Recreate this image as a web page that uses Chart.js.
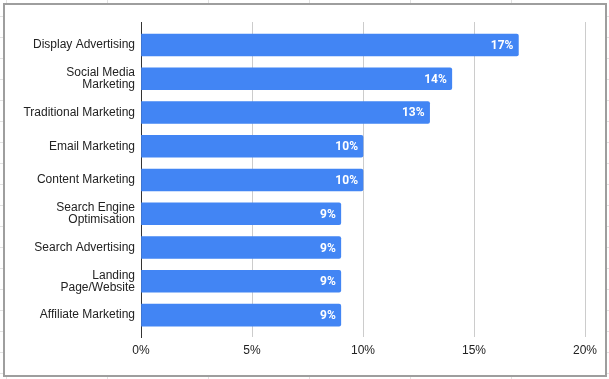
<!DOCTYPE html>
<html>
<head>
<meta charset="utf-8">
<script src="https://cdn.jsdelivr.net/npm/chart.js@4/dist/chart.umd.min.js"></script>
<style>
  html, body { margin: 0; padding: 0; }
  body {
    width: 609px; height: 379px; position: relative; overflow: hidden;
    background-color: #fff;
    background-image:
      linear-gradient(to right, #e2e2e2 1px, transparent 1px),
      linear-gradient(to bottom, #e2e2e2 1px, transparent 1px);
    background-size: 101px 21px;
    background-position: 6px 16px;
  }
  #frame {
    position: absolute; left: 3px; top: 3px; width: 600px; height: 370px;
    background: #fff; border: 2px solid #9e9e9e;
  }
  #wrap { position: absolute; left: 0; top: 0; width: 609px; height: 379px; }
</style>
</head>
<body>
<div id="frame"></div>
<div id="wrap"><canvas id="c" width="609" height="379"></canvas></div>
<script>
const categories = [
  "Display Advertising",
  ["Social Media", "Marketing"],
  "Traditional Marketing",
  "Email Marketing",
  "Content Marketing",
  ["Search Engine", "Optimisation"],
  "Search Advertising",
  ["Landing", "Page/Website"],
  "Affiliate Marketing"
];
const values = [17, 14, 13, 10, 10, 9, 9, 9, 9];
const xTicks = [0, 5, 10, 15, 20];

const valueLabels = {
  id: 'valueLabels',
  afterDatasetsDraw(chart) {
    const ctx = chart.ctx;
    const meta = chart.getDatasetMeta(0);
    ctx.save();
    ctx.fillStyle = '#ffffff';
    ctx.font = 'bold 12px Roboto, "Liberation Sans", Arial, sans-serif';
    ctx.textAlign = 'right';
    ctx.textBaseline = 'middle';
    meta.data.forEach((bar, i) => {
      ctx.fillText(values[i] + '%', bar.x - 5, bar.y + 1);
    });
    ctx.restore();
  }
};

new Chart(document.getElementById('c'), {
  type: 'bar',
  data: {
    datasets: [{
      data: values.map((v, i) => ({ x: v, y: i })),
      backgroundColor: '#4285F4',
      borderWidth: 0,
      borderRadius: 2,
      borderSkipped: 'start',
      barThickness: 22
    }]
  },
  plugins: [valueLabels],
  options: {
    indexAxis: 'y',
    responsive: false,
    animation: false,
    events: [],
    layout: { padding: { left: 0, top: 22, right: 24, bottom: 0 } },
    plugins: { legend: { display: false }, tooltip: { enabled: false } },
    scales: {
      x: {
        type: 'linear',
        min: 0, max: 20,
        afterBuildTicks(scale) { scale.ticks = xTicks.map(v => ({ value: v })); },
        afterFit(scale) { scale.height = 42; },
        grid: {
          drawTicks: false,
          color: (c) => c.tick && c.tick.value === 0 ? 'rgba(0,0,0,0)' : '#cccccc',
          lineWidth: 1
        },
        border: { display: false },
        ticks: {
          padding: 6,
          color: '#222222',
          font: { family: '"Liberation Sans", Arial, sans-serif', size: 12 },
          callback: (v) => v + '%'
        }
      },
      y: {
        type: 'linear',
        reverse: true,
        offset: false,
        min: -0.68, max: 8.65,
        afterBuildTicks(scale) { scale.ticks = categories.map((_, i) => ({ value: i })); },
        afterFit(scale) { scale.width = 141; },
        grid: { display: false, drawTicks: false, offset: false },
        border: { display: true, color: '#333333', width: 1 },
        ticks: {
          padding: 6,
          autoSkip: false,
          color: '#222222',
          font: { family: '"Liberation Sans", Arial, sans-serif', size: 12, lineHeight: 1 },
          callback: (v) => categories[v]
        }
      }
    }
  }
});
</script>
</body>
</html>
